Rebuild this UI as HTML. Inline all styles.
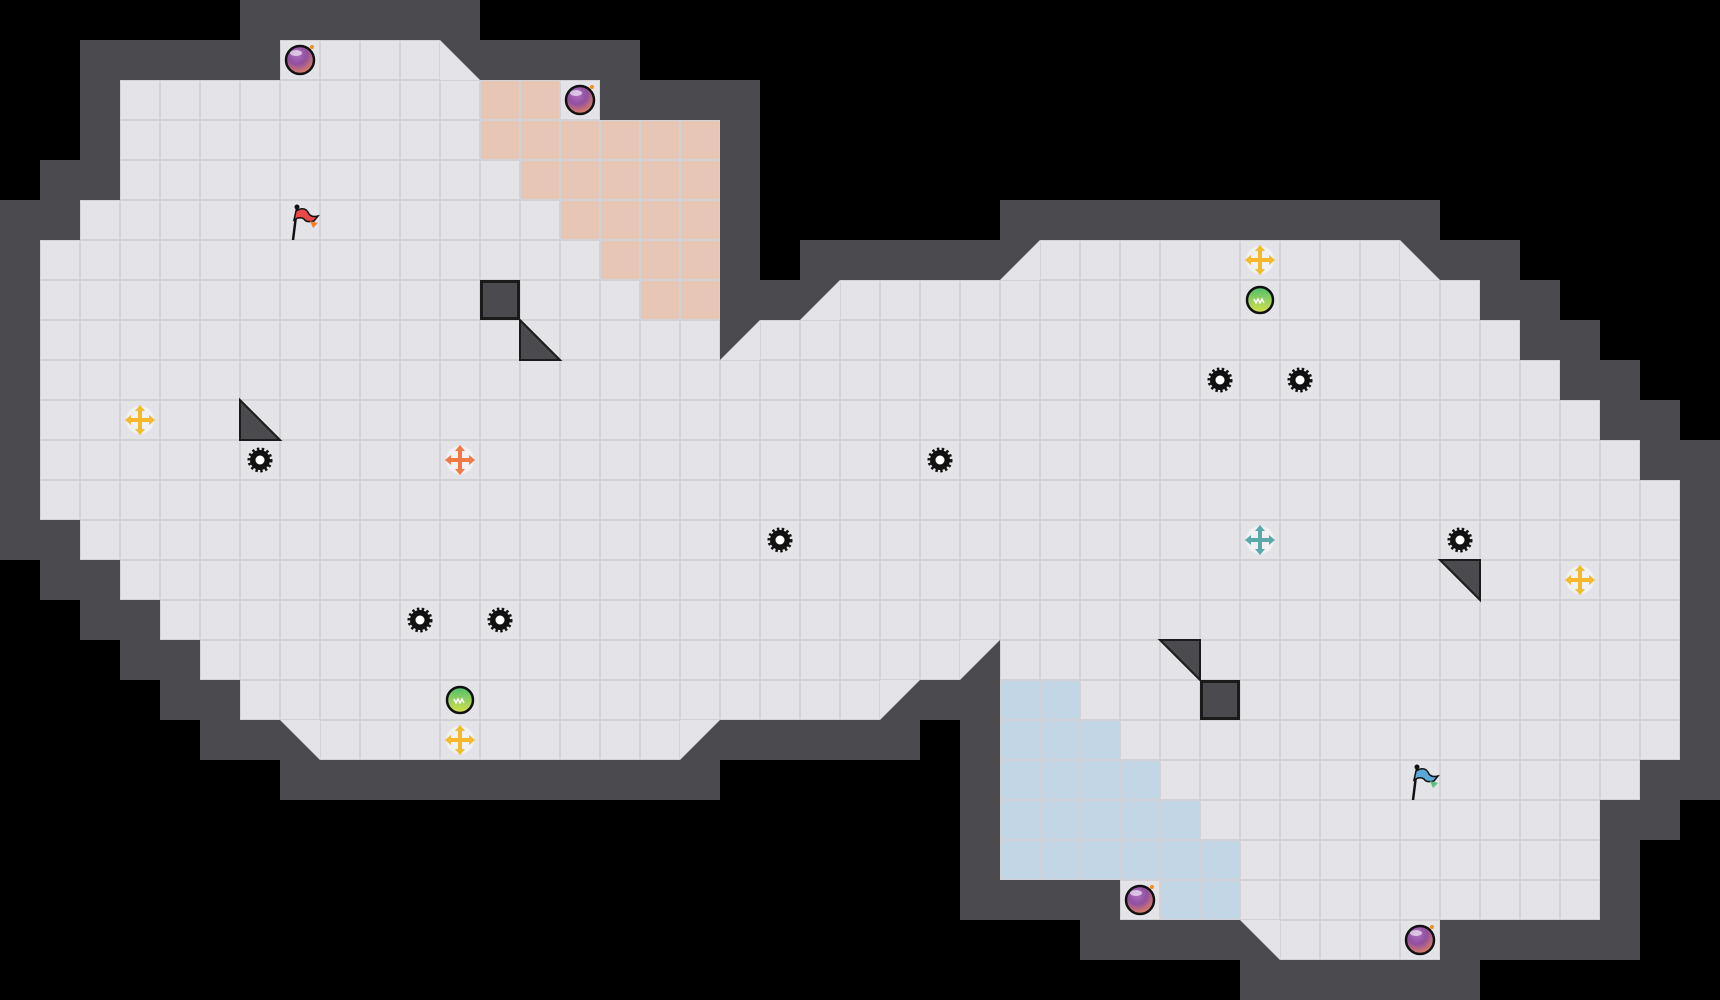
<!DOCTYPE html>
<html><head><meta charset="utf-8"><style>
html,body{margin:0;padding:0;background:#000;}
svg{display:block;}
</style></head><body>
<svg id="s" width="1720" height="1000" viewBox="0 0 1720 1000" xmlns="http://www.w3.org/2000/svg">
<defs>
<radialGradient id="bomb" cx="40%" cy="30%" r="70%"><stop offset="0" stop-color="#b070c0"/><stop offset="0.5" stop-color="#9050a0"/><stop offset="1" stop-color="#e08060"/></radialGradient>
<linearGradient id="gball" x1="0" y1="0" x2="0" y2="1"><stop offset="0" stop-color="#4fbf70"/><stop offset="1" stop-color="#d8e04a"/></linearGradient>
</defs>
<rect width="1720" height="1000" fill="#000"/>
<g id="g"></g>
</svg>
<script>
var C=40,F={},D=[];
var spans={1:[[7,10]],2:[[3,14]],3:[[3,17]],4:[[3,17]],5:[[2,17]],6:[[1,17],[26,34]],7:[[1,17],[21,36]],8:[[1,17],[19,37]],9:[[1,38]],10:[[1,39]],11:[[1,40]],12:[[1,41]],13:[[2,41]],14:[[3,41]],15:[[4,41]],16:[[5,23],[25,41]],17:[[6,21],[25,41]],18:[[8,16],[25,41]],19:[[25,40]],20:[[25,39]],21:[[25,39]],22:[[28,39]],23:[[32,35]]};
var diag=[[1,11,"TL BL BR"],[8,18,"TR BR BL"],[7,20,"TR BR BL"],[6,25,"TR BR BL"],[6,35,"TL BL BR"],[17,22,"TL TR BL"],[16,24,"TL TR BL"],[18,17,"TL TR BL"],[18,7,"TL TR BR"],[23,31,"TL TR BR"]];
for(var r in spans){spans[r].forEach(function(s){for(var c=s[0];c<=s[1];c++)F[r+","+c]=1;});}
diag.forEach(function(d){F[d[0]+","+d[1]]=2;});
var out=[];
function pt(r,c,k){var x=c*C,y=r*C;return (k[1]=="R"?x+C:x)+","+(k[0]=="B"?y+C:y);}
for(var r=0;r<25;r++)for(var c=0;c<43;c++){
 if(F[r+","+c])continue;var adj=false;
 for(var dr=-1;dr<=1;dr++)for(var dc=-1;dc<=1;dc++){var v=F[(r+dr)+","+(c+dc)];
  if(v==1)adj=true; else if(v==2&&(dr==0||dc==0))adj=true;}
 if(adj)out.push('<rect x="'+c*C+'" y="'+r*C+'" width="40" height="40" fill="#4a4a4f"/>');
}
var peach={2:[12,13],3:[12,17],4:[13,17],5:[14,17],6:[15,17],7:[16,17]};
var blue={17:[25,26],18:[25,27],19:[25,28],20:[25,29],21:[25,30],22:[29,30]};
function col(r,c){if(peach[r]&&c>=peach[r][0]&&c<=peach[r][1])return "#e8c6b6";if(blue[r]&&c>=blue[r][0]&&c<=blue[r][1])return "#c3d6e5";return "#e4e4e8";}
for(var k in F){var p=k.split(","),r=+p[0],c=+p[1];
 if(F[k]==1)out.push('<rect x="'+(c*C+0.5)+'" y="'+(r*C+0.5)+'" width="39" height="39" fill="'+col(r,c)+'" stroke="#d2d2d7" stroke-width="1"/>');
}
diag.forEach(function(d){var r=d[0],c=d[1];out.push('<rect x="'+c*C+'" y="'+r*C+'" width="40" height="40" fill="#4a4a4f"/>');
 out.push('<polygon points="'+d[2].split(" ").map(function(k){return pt(r,c,k)}).join(" ")+'" fill="#e4e4e8"/>');});
[[8,13,"TL BL BR"],[10,6,"TL BL BR"],[16,29,"TL TR BR"],[14,36,"TL TR BR"]].forEach(function(d){
 out.push('<polygon points="'+d[2].split(" ").map(function(k){return pt(d[0],d[1],k)}).join(" ")+'" fill="#4a4a4f" stroke="#1a1a1a" stroke-width="2"/>');});
[[7,12],[17,30]].forEach(function(d){out.push('<rect x="'+(d[1]*C+1.5)+'" y="'+(d[0]*C+1.5)+'" width="37" height="37" fill="#4a4a4f" stroke="#1a1a1a" stroke-width="3"/>');});
function cx(c){return c*C+20}
function gear(r,c){var x=cx(c),y=cx(r);out.push('<circle cx="'+x+'" cy="'+y+'" r="10" fill="#111" stroke="#111" stroke-width="5" stroke-dasharray="2.2 2.2"/><circle cx="'+x+'" cy="'+y+'" r="4.5" fill="#fff"/>');}
function plus(r,c,col){var x=cx(c),y=cx(r);out.push('<circle cx="'+x+'" cy="'+y+'" r="14" fill="#f4f4f6" opacity="0.8"/><g stroke="'+col+'" stroke-width="4" stroke-linecap="round"><line x1="'+(x-11)+'" y1="'+y+'" x2="'+(x+11)+'" y2="'+y+'"/><line x1="'+x+'" y1="'+(y-11)+'" x2="'+x+'" y2="'+(y+11)+'"/></g><g fill="'+col+'"><polygon points="'+(x-15)+','+y+' '+(x-9)+','+(y-5)+' '+(x-9)+','+(y+5)+'"/><polygon points="'+(x+15)+','+y+' '+(x+9)+','+(y-5)+' '+(x+9)+','+(y+5)+'"/><polygon points="'+x+','+(y-15)+' '+(x-5)+','+(y-9)+' '+(x+5)+','+(y-9)+'"/><polygon points="'+x+','+(y+15)+' '+(x-5)+','+(y+9)+' '+(x+5)+','+(y+9)+'"/></g>');}
function bomb(r,c){var x=cx(c),y=cx(r);out.push('<circle cx="'+x+'" cy="'+y+'" r="14" fill="url(#bomb)" stroke="#111" stroke-width="2.5"/><ellipse cx="'+(x-4)+'" cy="'+(y-7)+'" rx="6" ry="3" fill="#fff" opacity="0.6"/><circle cx="'+(x+12)+'" cy="'+(y-13)+'" r="2" fill="#f09020"/>');}
function ball(r,c){var x=cx(c),y=cx(r);out.push('<circle cx="'+x+'" cy="'+y+'" r="13" fill="url(#gball)" stroke="#111" stroke-width="2.5"/><path d="M'+(x-6)+','+(y-1)+' l2,4 l2,-4 l2,4 l2,-4 l2,4" fill="none" stroke="#fff" stroke-width="1.5"/>');}
function flag(r,c,col,col2){var x=cx(c),y=cx(r);out.push('<line x1="'+(x-7)+'" y1="'+(y+20)+'" x2="'+(x-3)+'" y2="'+(y-12)+'" stroke="#111" stroke-width="2.5"/><circle cx="'+(x-3)+'" cy="'+(y-13)+'" r="2.5" fill="#111"/><path d="M'+(x-4)+','+(y-9)+' q8,-5 12,1 q2,6 10,4 l-4,5 q-8,2 -10,-2 q-4,-3 -10,1 z" fill="'+col+'" stroke="#111" stroke-width="1.5"/><path d="M'+(x+10)+','+(y+1)+' l8,2 l-5,5 z" fill="'+col2+'"/>');}
gear(11,6);gear(15,10);gear(15,12);gear(13,19);gear(11,23);gear(9,30);gear(9,32);gear(13,36);
plus(10,3,"#f5b82a");plus(11,11,"#ef7a45");plus(18,11,"#f5b82a");plus(6,31,"#f5b82a");plus(13,31,"#5aa9a8");plus(14,39,"#f5b82a");
bomb(1,7);bomb(2,14);bomb(22,28);bomb(23,35);
ball(17,11);ball(7,31);
flag(5,7,"#e84848","#f08030");flag(19,35,"#5aa8d8","#5abf80");
document.getElementById("g").innerHTML=out.join("");
</script>
</body></html>
